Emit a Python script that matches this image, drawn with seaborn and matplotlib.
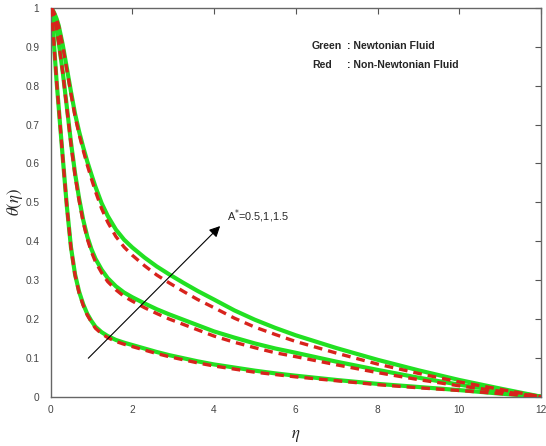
import numpy as np
import pandas as pd
import matplotlib
matplotlib.use("Agg")
import matplotlib.pyplot as plt
import seaborn as sns

# ---- data ----
eta = [0, 0.05, 0.1, 0.15, 0.2, 0.3, 0.4, 0.5, 0.6, 0.7, 0.8, 0.9, 1.0, 1.1,
       1.25, 1.4, 1.6, 1.8, 2.0, 2.3, 2.6, 2.9, 3.25, 3.6, 4, 4.5, 5, 5.5,
       6, 7, 8, 9, 10, 11, 12]

# Newtonian fluid (green, solid)
newt_a05 = [1, 0.962, 0.885, 0.81, 0.745, 0.615, 0.49, 0.385, 0.315, 0.27,
            0.238, 0.213, 0.195, 0.18, 0.166, 0.156, 0.146, 0.139, 0.133, 0.124,
            0.115, 0.107, 0.099, 0.091, 0.083, 0.075, 0.067, 0.06, 0.054, 0.043,
            0.033, 0.025, 0.017, 0.008, 0]
newt_a10 = [1, 0.99, 0.97, 0.945, 0.912, 0.835, 0.745, 0.655, 0.575, 0.51,
            0.455, 0.412, 0.38, 0.355, 0.327, 0.305, 0.284, 0.268, 0.256, 0.24,
            0.225, 0.212, 0.198, 0.184, 0.168, 0.152, 0.137, 0.124, 0.113, 0.09,
            0.069, 0.049, 0.031, 0.015, 0]
newt_a15 = [1, 0.996, 0.985, 0.972, 0.955, 0.905, 0.845, 0.785, 0.728, 0.682,
            0.642, 0.605, 0.572, 0.54, 0.498, 0.465, 0.43, 0.404, 0.384, 0.358,
            0.335, 0.315, 0.293, 0.272, 0.25, 0.222, 0.198, 0.177, 0.158, 0.125,
            0.095, 0.068, 0.043, 0.021, 0]

# Non-Newtonian fluid (red, dashed)
nn_a05 = [1, 0.962, 0.885, 0.81, 0.745, 0.614, 0.489, 0.383, 0.313, 0.267,
          0.235, 0.21, 0.192, 0.176, 0.162, 0.152, 0.142, 0.135, 0.129, 0.12,
          0.111, 0.103, 0.095, 0.087, 0.079, 0.071, 0.063, 0.057, 0.051, 0.041,
          0.031, 0.023, 0.016, 0.008, 0]
nn_a10 = [1, 0.99, 0.97, 0.945, 0.911, 0.833, 0.742, 0.651, 0.57, 0.505,
          0.449, 0.406, 0.373, 0.347, 0.319, 0.296, 0.275, 0.258, 0.246, 0.229,
          0.214, 0.2, 0.186, 0.172, 0.156, 0.14, 0.126, 0.113, 0.103, 0.082,
          0.062, 0.044, 0.028, 0.014, 0]
nn_a15 = [1, 0.996, 0.985, 0.971, 0.953, 0.902, 0.841, 0.78, 0.722, 0.675,
          0.634, 0.596, 0.561, 0.528, 0.484, 0.449, 0.412, 0.385, 0.364, 0.337,
          0.313, 0.293, 0.271, 0.25, 0.229, 0.202, 0.179, 0.16, 0.142, 0.112,
          0.084, 0.06, 0.038, 0.019, 0]

x_ticks = [0, 2, 4, 6, 8, 10, 12]
y_ticks = [0, 0.1, 0.2, 0.3, 0.4, 0.5, 0.6, 0.7, 0.8, 0.9, 1]
y_tick_labels = ["0", "0.1", "0.2", "0.3", "0.4", "0.5", "0.6", "0.7", "0.8", "0.9", "1"]

sns.set_style("white")
plt.rcParams["font.family"] = ["Liberation Sans", "DejaVu Sans"]

fig = plt.figure(figsize=(5.46, 4.46), dpi=100)
ax = fig.add_axes([50.5 / 546, 1 - 396.7 / 446, 490.5 / 546, 388.7 / 446])

GREEN = "#22e022"
RED = "#d8231c"

pairs = [(newt_a05, nn_a05), (newt_a10, nn_a10), (newt_a15, nn_a15)]
for g, r in pairs:
    dfg = pd.DataFrame({"eta": eta, "theta": g})
    dfr = pd.DataFrame({"eta": eta, "theta": r})
    sns.lineplot(data=dfg, x="eta", y="theta", ax=ax, color=GREEN, lw=3.0,
                 estimator=None, sort=False, zorder=2,
                 solid_joinstyle="round", solid_capstyle="round")
    sns.lineplot(data=dfr, x="eta", y="theta", ax=ax, color=RED, lw=2.4,
                 estimator=None, sort=False, zorder=3,
                 linestyle=(0, (2.6, 1.8)), dash_joinstyle="round")

ax.set_xlim(0, 12)
ax.set_ylim(0, 1)
ax.set_xticks(x_ticks)
ax.set_xticklabels([str(t) for t in x_ticks])
ax.set_yticks(y_ticks)
ax.set_yticklabels(y_tick_labels)

ax.tick_params(direction="in", length=4, width=0.8, color="#555555",
               labelsize=7.3, labelcolor="#444444", top=True, right=True,
               labeltop=False, labelright=False)
ax.tick_params(axis="y", pad=8)
ax.tick_params(axis="x", pad=6)
for s in ax.spines.values():
    s.set_visible(True)
    s.set_color("#666666")
    s.set_linewidth(1.0)

ax.set_xlabel(r"$\eta$", fontsize=12, labelpad=9, math_fontfamily="stix")
ax.set_ylabel(r"$\theta(\eta)$", fontsize=12, labelpad=0, math_fontfamily="stix")

# legend-like annotation
fs = 7.6
ax.text(0.533, 0.902, "Green", transform=ax.transAxes, fontsize=fs,
        fontweight="bold", va="center", ha="left")
ax.text(0.604, 0.902, ": Newtonian Fluid", transform=ax.transAxes, fontsize=fs,
        fontweight="bold", va="center", ha="left")
ax.text(0.533, 0.853, "Red", transform=ax.transAxes, fontsize=fs,
        fontweight="bold", va="center", ha="left")
ax.text(0.604, 0.853, ": Non-Newtonian Fluid", transform=ax.transAxes, fontsize=fs,
        fontweight="bold", va="center", ha="left")

# arrow with parameter label
ax.annotate("", xy=(4.15, 0.439), xytext=(0.925, 0.099),
            arrowprops=dict(arrowstyle="-|>", color="black", lw=0.8,
                            mutation_scale=16, shrinkA=0, shrinkB=0), zorder=5)
ax.text(4.31, 0.465, r"A$^{*}$=0.5,1,1.5", fontsize=7.8, va="center", ha="left")

fig.savefig("out.png", dpi=100)
